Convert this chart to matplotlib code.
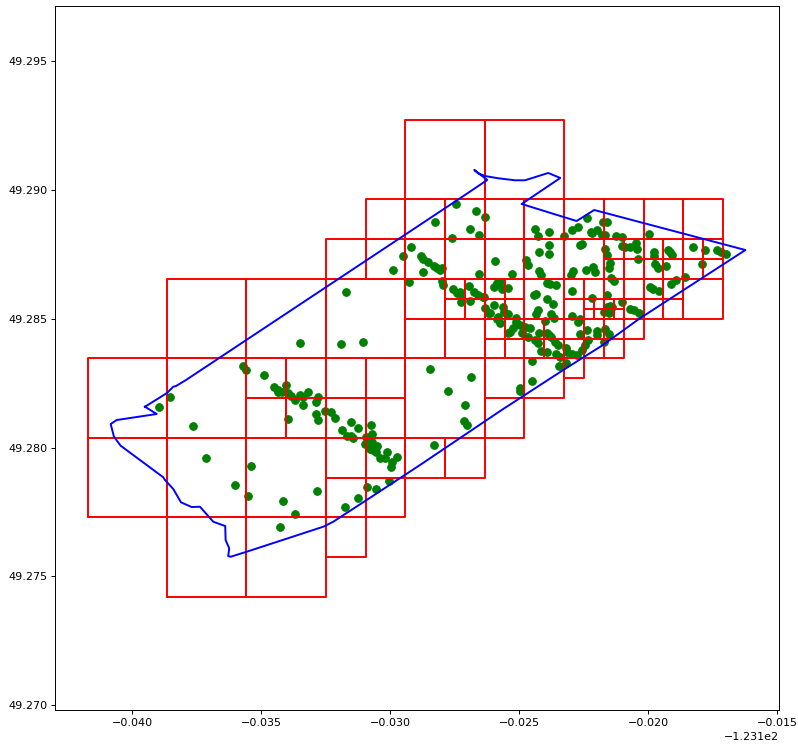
import matplotlib
import matplotlib.pyplot as plt

matplotlib.use('Agg')

# all coordinates below are in thousandths of a degree, relative to the origin
LON_ORIGIN = -123.1
LAT_ORIGIN = 49.28

# neighbourhood boundary
boundary_lon = [-39.515, -38.66, -38.417, -38.31, -37.924, -27.102, -26.237, -26.74, -26.585, -26.326,
                -25.81, -25.163, -24.775, -23.871, -23.405, -24.903, -22.77, -22.087, -16.222, -17.859,
                -20.314, -21.75, -23.289, -25.679, -28.848, -30.916, -32.211, -32.6, -35.572, -36.193,
                -36.286, -36.247, -36.387, -36.402, -36.866, -37.382, -37.704, -38.119, -38.417, -38.739,
                -38.805, -40.458, -40.718, -40.846, -40.613, -39.061, -39.515]
boundary_lat = [1.582, 2.114, 2.358, 2.385, 2.618, 9.792, 10.374, 10.762, 10.634, 10.529,
                10.44, 10.362, 10.362, 10.646, 10.452, 9.443, 8.783, 9.21, 7.658, 6.599,
                5.01, 3.974, 3.004, 1.454, -0.68, -2.036, -2.878, -3.072, -4.042, -4.236,
                -4.209, -3.91, -3.588, -3.045, -2.878, -2.296, -2.308, -2.125, -1.609, -1.26,
                -1.155, 0.069, 0.418, 0.911, 1.066, 1.299, 1.582]

# quadtree cells, one list per level
level0_size = 3.082
level0_left = [-29.417, -26.335, -38.663, -35.581, -32.499, -41.745, -38.663, -29.417, -41.745, -38.663, -35.581, -38.663, -35.581]
level0_bottom = [9.618, 9.618, 3.454, 3.454, 3.454, 0.372, 0.372, 0.372, -2.71, -2.71, -2.71, -5.792, -5.792]

level1_size = 1.541
level1_left = [-30.958, -29.417, -27.876, -26.335, -24.794, -23.253, -21.712, -20.171, -18.63,
               -32.499, -30.958, -29.417, -27.876, -26.335, -24.794, -23.253,
               -29.417, -24.794, -18.63,
               -29.417, -27.876,
               -35.581, -34.04, -32.499, -30.958, -26.335, -24.794,
               -35.581, -34.04, -32.499, -30.958, -26.335,
               -32.499, -30.958, -29.417, -27.876,
               -32.499, -30.958,
               -32.499]
level1_bottom = [8.077] * 9 + [6.536] * 7 + [4.995] * 3 + [3.454] * 2 + [1.913] * 6 + [0.372] * 5 + [-1.169] * 4 + [-2.71] * 2 + [-4.251]

level2_size = 0.7705
level2_left = [-21.712, -20.9415, -20.171, -19.4005, -18.63, -17.8595,
               -21.712, -20.9415, -20.171, -19.4005, -18.63, -17.8595,
               -27.876, -27.1055, -26.335, -25.5645, -23.253, -22.4825, -21.712, -20.9415, -20.171, -19.4005,
               -27.876, -27.1055, -26.335, -25.5645, -23.253, -20.9415, -20.171, -19.4005,
               -26.335, -25.5645, -24.794, -24.0235, -23.253, -22.4825, -21.712, -20.9415,
               -26.335, -25.5645, -24.794, -24.0235, -23.253, -22.4825, -21.712,
               -23.253]
level2_bottom = [7.3065] * 6 + [6.536] * 6 + [5.7655] * 10 + [4.995] * 8 + [4.2245] * 8 + [3.454] * 7 + [2.6835]

level3_size = 0.3855
level3_left = [-22.4825, -22.097, -21.712, -21.3265, -22.4825, -22.097, -21.712, -21.3265]
level3_bottom = [5.38, 5.38, 5.38, 5.38, 4.995, 4.995, 4.995, 4.995]

# stops
stop_lon = [-38.96, -38.55, -37.65, -37.15, -35.39, -36.01, -35.51, -34.15, -32.83, -33.71, -34.28, -31.75, -31.26, -30.90, -30.55, -30.06,
            -35.73, -35.60, -34.89, -34.50, -34.05, -34.37, -34.35, -34.21, -33.96, -33.85, -33.70, -33.51, -33.39, -33.40, -33.18, -32.79,
            -32.89, -32.89, -32.79, -33.96, -32.53, -32.31, -32.13, -31.86, -31.51, -31.24, -30.74, -30.70, -30.95, -31.67, -31.54, -31.44,
            -30.72, -30.98, -30.52, -30.79, -30.66, -30.55, -30.14, -30.40, -30.19, -29.95, -29.74, -29.97,
            -31.72, -33.50, -31.91, -31.06, -28.46, -27.76, -26.87, -27.10, -27.14, -27.03, -28.32, -24.96, -24.96, -24.49, -24.50, -23.47, -23.18,
            -28.25, -26.68, -26.91, -26.33, -26.55, -27.60, -29.20, -29.50, -29.90, -29.26, -28.82, -28.72, -28.55, -28.72, -28.29, -28.18, -28.07, -27.98,
            -25.95, -26.56, -27.99, -27.94, -27.56, -27.42, -27.30, -27.26, -26.94, -26.75, -26.59, -26.39, -27.27, -26.91, -25.98, -25.86, -25.74, -25.68,
            -25.45, -25.29, -26.37, -25.96, -26.13, -26.33, -26.20, -25.81, -25.62, -25.59, -25.42, -25.14, -25.87, -25.74, -25.23, -25.36, -25.42, -24.90,
            -24.78, -24.58, -24.65, -24.39, -24.23, -24.26, -24.15, -23.93,
            -24.37, -24.27, -23.86, -23.27, -22.96, -22.72, -23.84, -23.84, -24.24, -22.64, -24.74, -24.65, -24.21, -24.17, -22.91, -22.99, -23.90, -23.80,
            -23.57, -24.41, -24.33, -23.90, -23.69, -24.27, -24.34, -23.77, -23.65, -24.00, -22.96, -22.71, -22.64, -22.36, -23.84, -23.61, -23.48, -23.57,
            -23.42, -23.18, -23.13, -22.96, -22.77, -22.58, -22.45, -22.32, -21.99, -21.99, -21.67, -21.51, -21.71, -22.96, -22.16, -21.58, -21.48, -21.61,
            -21.41, -21.54, -21.71, -21.52, -21.01, -20.70, -20.55, -20.35, -22.64,
            -22.38, -21.74, -21.61, -22.22, -22.18, -21.97, -21.80, -21.65, -21.25, -21.02, -19.96, -22.56, -21.65, -21.61, -21.02, -20.90, -20.70, -20.47,
            -20.44, -20.38, -19.76, -19.76, -19.23, -19.15, -19.08, -18.25, -17.77, -17.34, -17.15, -16.98, -17.90, -21.48, -21.50, -22.13, -22.05, -22.41,
            -21.43, -21.32, -19.73, -19.60, -19.31, -18.57, -18.92, -19.12, -19.93, -19.80, -19.58,
            -27.45, -24.97, -25.12, -23.92, -23.77]
stop_lat = [1.56, 1.96, 0.85, -0.40, -0.71, -1.44, -1.88, -2.09, -1.70, -2.57, -3.07, -2.30, -1.97, -1.54, -1.59, -1.29,
            3.15, 3.02, 2.82, 2.33, 2.42, 2.16, 2.23, 2.14, 2.10, 2.01, 1.84, 2.04, 1.95, 1.65, 2.16, 1.97,
            1.76, 1.29, 1.07, 1.09, 1.40, 1.38, 1.13, 0.68, 0.99, 0.74, 0.87, 0.52, 0.39, 0.45, 0.43, 0.38,
            0.22, 0.12, 0.07, -0.05, -0.10, -0.17, -0.16, -0.39, -0.42, -0.57, -0.36, -0.77,
            6.03, 4.05, 4.01, 4.09, 3.04, 2.19, 2.73, 1.65, 1.03, 0.87, 0.10, 2.30, 2.19, 2.59, 3.37, 3.16, 3.27,
            8.76, 9.17, 8.49, 8.94, 8.25, 8.14, 7.78, 7.44, 6.88, 6.41, 7.44, 7.31, 7.20, 6.80, 7.04, 6.95, 6.88, 6.97,
            7.23, 6.74, 6.47, 6.30, 6.16, 5.98, 6.03, 5.95, 6.26, 6.02, 5.91, 5.85, 5.63, 5.68, 6.21, 6.38, 6.41, 6.13,
            6.19, 6.73, 5.82, 5.51, 5.23, 5.40, 5.20, 5.07, 5.46, 5.27, 5.18, 5.01, 4.98, 4.82, 4.62, 4.49, 4.43, 4.45,
            4.68, 4.62, 4.30, 4.17, 4.43, 4.04, 3.74, 3.72,
            8.48, 8.22, 8.37, 8.21, 8.44, 8.56, 7.84, 7.50, 7.60, 7.85, 7.27, 7.07, 6.86, 6.68, 6.86, 6.69, 6.39, 6.33,
            6.30, 5.92, 5.95, 5.75, 5.56, 5.33, 5.18, 5.17, 5.01, 4.92, 5.10, 4.88, 4.40, 4.56, 4.36, 4.10, 3.97, 3.61,
            3.52, 3.85, 3.72, 3.63, 3.59, 3.78, 3.98, 4.17, 4.53, 4.36, 4.58, 4.40, 4.10, 6.07, 5.79, 5.91, 5.49, 5.44,
            5.44, 5.33, 5.26, 5.20, 5.63, 5.36, 5.32, 5.20, 4.97,
            8.89, 8.76, 8.76, 8.37, 8.32, 8.44, 8.24, 8.24, 8.20, 8.15, 8.27, 7.88, 7.69, 7.47, 7.81, 7.77, 7.76, 7.94,
            7.70, 7.31, 7.59, 7.44, 7.66, 7.59, 7.47, 7.76, 7.65, 7.66, 7.57, 7.49, 7.13, 7.14, 6.95, 6.99, 6.81, 6.88,
            6.56, 6.47, 7.10, 6.95, 7.03, 6.60, 6.50, 6.34, 6.24, 6.13, 6.08,
            9.44, 4.75, 4.87, 4.44, 4.29]


def lon(v):
    return LON_ORIGIN + v / 1000


def lat(v):
    return LAT_ORIGIN + v / 1000


def draw_cells(ax, lefts, bottoms, size):
    for left, bottom in zip(lefts, bottoms):
        xs = [left, left + size, left + size, left, left]
        ys = [bottom, bottom, bottom + size, bottom + size, bottom]
        ax.plot([lon(x) for x in xs], [lat(y) for y in ys], color='red', linewidth=1.4)


if __name__ == '__main__':
    # the picture is a scaled-down default figure, so text and ticks are smaller than the defaults
    plt.rcParams['font.size'] = 8
    plt.rcParams['axes.linewidth'] = 0.7
    plt.rcParams['xtick.major.size'] = 2.7
    plt.rcParams['ytick.major.size'] = 2.7
    plt.rcParams['xtick.major.width'] = 0.7
    plt.rcParams['ytick.major.width'] = 0.7
    plt.rcParams['xtick.major.pad'] = 2.7
    plt.rcParams['ytick.major.pad'] = 2.7

    fig = plt.figure(figsize=(7.98, 7.45), dpi=100)
    ax = fig.add_axes([55 / 798, 34.7 / 745, 723.7 / 798, 704.8 / 745])

    ax.scatter([lon(x) for x in stop_lon], [lat(y) for y in stop_lat], color='green', s=30, linewidths=0.77)

    draw_cells(ax, level0_left, level0_bottom, level0_size)
    draw_cells(ax, level1_left, level1_bottom, level1_size)
    draw_cells(ax, level2_left, level2_bottom, level2_size)
    draw_cells(ax, level3_left, level3_bottom, level3_size)

    ax.plot([lon(x) for x in boundary_lon], [lat(y) for y in boundary_lat], color='blue', linewidth=1.4)

    ax.set_xlim(-123.143006, -123.11493)
    ax.set_ylim(49.26981, 49.29714)

    plt.savefig('out.png', dpi=100)
